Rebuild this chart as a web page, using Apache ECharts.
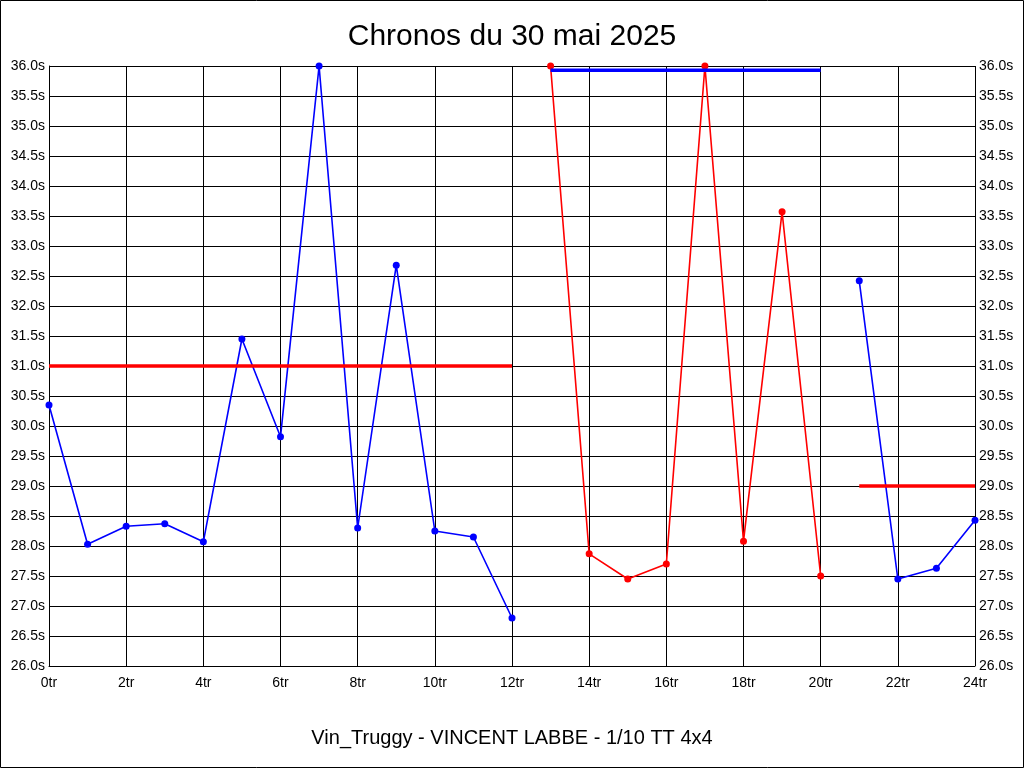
<!DOCTYPE html>
<html>
<head>
<meta charset="utf-8">
<script src="https://cdn.jsdelivr.net/npm/echarts@6/dist/echarts.min.js"></script>
<style>
html,body{margin:0;padding:0;background:#fff;}
#chart{width:1024px;height:768px;}
</style>
</head>
<body>
<div id="chart"></div>
<script>
// ---- data ----
const laps = [0,1,2,3,4,5,6,7,8,9,10,11,12,13,14,15,16,17,18,19,20,21,22,23,24];
const lapTimes = [30.35,28.03,28.33,28.37,28.07,31.45,29.82,36.0,28.3,32.68,28.25,28.15,26.8,
                  36.0,27.87,27.45,27.7,36.0,28.08,33.57,27.5,
                  32.42,27.45,27.63,28.43];
const runStarts = [0, 13, 21];
const runEnds = [12, 20, 24];
const runReference = [31.0, 35.93, 29.0];
const xTicks = [0,2,4,6,8,10,12,14,16,18,20,22,24];
const yTicks = [26,26.5,27,27.5,28,28.5,29,29.5,30,30.5,31,31.5,32,32.5,33,33.5,34,34.5,35,35.5,36];
const titleText = 'Chronos du 30 mai 2025';
const footerText = 'Vin_Truggy - VINCENT LABBE - 1/10 TT 4x4';

// ---- styles ----
const runColors = ['#0000ff', '#ff0000', '#0000ff'];
const refColors = ['#ff0000', '#0000ff', '#ff0000'];
const font = 'Liberation Sans, Arial, sans-serif';

const series = [];
runStarts.forEach((s, i) => {
  const pts = [];
  for (let k = 0; k < laps.length; k++) {
    if (laps[k] >= s && laps[k] <= runEnds[i]) pts.push([laps[k], lapTimes[k]]);
  }
  series.push({
    type: 'line', data: pts, clip: false,
    symbol: 'circle', symbolSize: 7, showSymbol: true,
    lineStyle: {color: runColors[i], width: 1.6},
    itemStyle: {color: runColors[i]},
    z: 3, animation: false
  });
  series.push({
    type: 'line', data: [[s, runReference[i]], [runEnds[i], runReference[i]]],
    symbol: 'none', clip: false,
    lineStyle: {color: refColors[i], width: 3.5},
    z: 4, animation: false
  });
});

const chart = echarts.init(document.getElementById('chart'), null, {renderer: 'canvas'});
chart.setOption({
  backgroundColor: '#fff',
  animation: false,
  title: [
    {text: titleText, left: 'center', top: 17,
     textStyle: {fontFamily: font, fontSize: 30, fontWeight: 'normal', color: '#000'}},
    {text: footerText, left: 'center', top: 723,
     textStyle: {fontFamily: font, fontSize: 20, fontWeight: 'normal', color: '#000'}}
  ],
  grid: {left: 49, right: 49, top: 66, bottom: 102, containLabel: false},
  xAxis: {
    type: 'value', min: 0, max: 24, interval: 2,
    axisLine: {show: true, lineStyle: {color: '#000', width: 1}},
    axisTick: {show: false},
    splitLine: {show: true, lineStyle: {color: '#000', width: 1}},
    axisLabel: {fontFamily: font, fontSize: 14, color: '#000', margin: 10,
      formatter: v => xTicks.includes(v) ? v + 'tr' : ''}
  },
  yAxis: [
    {
      type: 'value', min: 26, max: 36, interval: 0.5, position: 'left',
      axisLine: {show: true, lineStyle: {color: '#000', width: 1}},
      axisTick: {show: false},
      splitLine: {show: true, lineStyle: {color: '#000', width: 1}},
      axisLabel: {fontFamily: font, fontSize: 14, color: '#000', margin: 4, padding: [3, 0, 0, 0],
        formatter: v => yTicks.includes(v) ? v.toFixed(1) + 's' : ''}
    },
    {
      type: 'value', min: 26, max: 36, interval: 0.5, position: 'right',
      axisLine: {show: false},
      axisTick: {show: false},
      splitLine: {show: false},
      axisLabel: {fontFamily: font, fontSize: 14, color: '#000', margin: 4, padding: [3, 0, 0, 0],
        formatter: v => yTicks.includes(v) ? v.toFixed(1) + 's' : ''}
    }
  ],
  graphic: [{
    type: 'rect', silent: true, z: 100,
    shape: {x: 0.5, y: 0.5, width: 1023, height: 767},
    style: {fill: 'none', stroke: '#000', lineWidth: 1}
  }],
  series: series
});
</script>
</body>
</html>
